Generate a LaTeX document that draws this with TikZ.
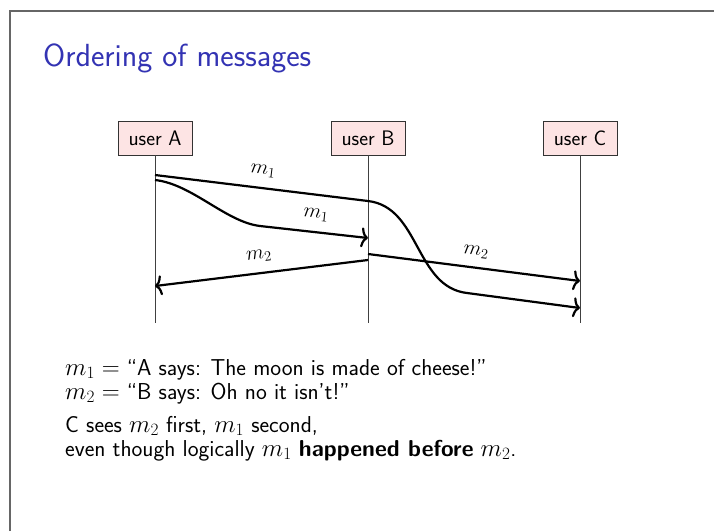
\documentclass[tikz,border=0pt]{standalone}
\usetikzlibrary{arrows.meta}
\definecolor{titleblue}{RGB}{51,51,179}
\definecolor{boxpink}{RGB}{253,228,228}
\begin{document}
\begin{tikzpicture}[x=1pt,y=-1pt,
  actor/.style={draw=black!80, fill=boxpink, minimum width=74pt, minimum height=34pt, inner sep=0pt, font=\fontsize{21}{24}\sffamily},
  life/.style={draw=black!75, line width=0.9pt},
  msg/.style={line width=2.2pt, -{To[length=7pt,width=20pt]}},
  lbl/.style={font=\fontsize{21}{24}\selectfont, inner sep=0pt},
  body/.style={anchor=base west, font=\fontsize{23}{26}\sffamily, inner sep=0pt}]
\useasboundingbox (0,0) rectangle (714,531);
\draw[black!60, line width=1.2pt] (10,531) -- (10,11) -- (714,11);
\node[anchor=base west, text=titleblue, font=\fontsize{32}{36}\sffamily, inner sep=0pt] (title) at (43,66) {Ordering of messages};
% actors
\node[actor] (A) at (155,138) {user A};
\node[actor] (B) at (368,138) {user B};
\node[actor] (C) at (580,138) {user C};
\coordinate (Aend) at (155,323);
\coordinate (Bend) at (368,323);
\coordinate (Cend) at (580,323);
\draw[life] (A.south) -- (Aend);
\draw[life] (B.south) -- (Bend);
\draw[life] (C.south) -- (Cend);
% message points
\coordinate (a1) at (155,175);
\coordinate (b1) at (368,201);
\coordinate (k1) at (467,293);
\coordinate (c1) at (580,308);
\coordinate (a2) at (155,180);
\coordinate (k2) at (260,226);
\coordinate (b2) at (368,238);
\coordinate (b3) at (368,260);
\coordinate (a3) at (155,286);
\coordinate (b4) at (368,254);
\coordinate (c4) at (580,281);
% messages
\draw[msg] (a1) -- (b1) .. controls (420,207) and (415,287) .. (k1) -- (c1);
\draw[msg] (a2) .. controls (192,184) and (226,222) .. (k2) -- (b2);
\draw[msg] (b3) -- (a3);
\draw[msg] (b4) -- (c4);
% labels
\node[lbl, rotate=-7] (l1) at (263,171) {$m_1$};
\node[lbl, rotate=-6] (l2) at (316,215) {$m_1$};
\node[lbl, rotate=7] (l3) at (259,256) {$m_2$};
\node[lbl, rotate=-7] (l4) at (476,252) {$m_2$};
% text
\node[body] (t1) at (65,375) {$m_1 = $ ``A says: The moon is made of cheese!''};
\node[body] (t2) at (65,399) {$m_2 = $ ``B says: Oh no it isn't!''};
\node[body] (t3) at (65,432) {C sees $m_2$ first, $m_1$ second,};
\node[body] (t4) at (65,456) {even though logically $m_1$ \textbf{happened before} $m_2$.};
\end{tikzpicture}
\end{document}
